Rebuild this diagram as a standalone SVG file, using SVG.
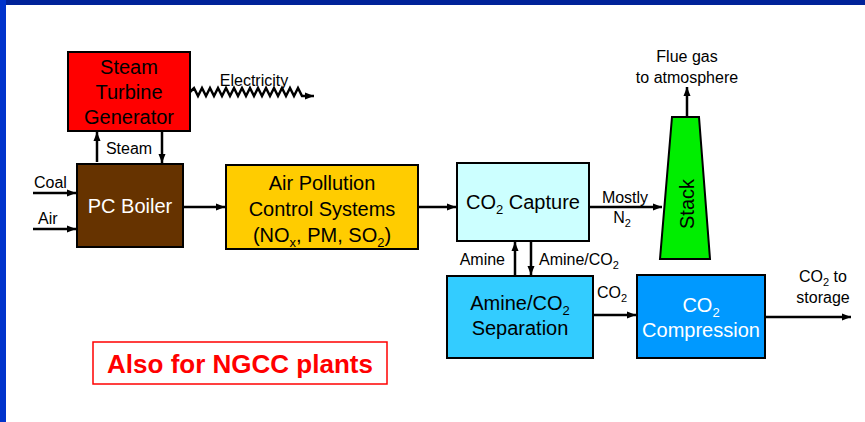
<svg xmlns="http://www.w3.org/2000/svg" width="865" height="422" viewBox="0 0 865 422">
<style>
  .box{stroke:#000;stroke-width:2}
  .t{font-family:"Liberation Sans",Arial,sans-serif;font-size:20px;fill:#000;text-anchor:middle}
  .w{fill:#fff}
  .l{font-family:"Liberation Sans",Arial,sans-serif;font-size:16px;fill:#000}
  .c{stroke:#000;stroke-width:2.5;fill:none}
</style>
<defs>
  <marker id="ah" markerUnits="userSpaceOnUse" markerWidth="10" markerHeight="8" refX="9" refY="4" orient="auto">
    <path d="M0,0.5 L9,4 L0,7.5 z" fill="#000"/>
  </marker>
</defs>
<rect x="0" y="0" width="865" height="422" fill="#fff"/>
<rect x="0" y="0" width="865" height="5" fill="#002299"/>
<rect x="0" y="0" width="6" height="422" fill="#0033cc"/>

<g id="stg">
  <rect class="box" x="68" y="52" width="122" height="79" fill="#ff0000"/>
  <text class="t" x="129" y="74">Steam</text>
  <text class="t" x="129" y="99">Turbine</text>
  <text class="t" x="129" y="124">Generator</text>
</g>
<g id="boiler">
  <rect class="box" x="77" y="164" width="106" height="83" fill="#663300"/>
  <text class="t w" x="130" y="213">PC Boiler</text>
</g>
<g id="apc">
  <rect class="box" x="226" y="165" width="192" height="84" fill="#ffcc00"/>
  <text class="t" x="322" y="190">Air Pollution</text>
  <text class="t" x="322" y="216">Control Systems</text>
  <text class="t" x="322" y="242">(NO<tspan font-size="13" dy="5">x</tspan><tspan dy="-5">, PM, SO</tspan><tspan font-size="13" dy="5">2</tspan><tspan dy="-5">)</tspan></text>
</g>
<g id="capture">
  <rect class="box" x="457" y="163" width="132" height="78" fill="#ccffff"/>
  <text class="t" x="523" y="209">CO<tspan font-size="13" dy="5">2</tspan><tspan dy="-5"> Capture</tspan></text>
</g>
<g id="stack">
  <polygon class="box" points="672,117 699,117 710,259 660,259" fill="#00ee00"/>
  <text class="t" transform="translate(694,204) rotate(-90)">Stack</text>
</g>
<g id="separation">
  <rect class="box" x="447" y="276" width="146" height="82" fill="#33ccff"/>
  <text class="t" x="520" y="310">Amine/CO<tspan font-size="13" dy="5">2</tspan></text>
  <text class="t" x="520" y="335">Separation</text>
</g>
<g id="compression">
  <rect class="box" x="637" y="275" width="128" height="83" fill="#0099ff"/>
  <text class="t w" x="701" y="312">CO<tspan font-size="13" dy="5">2</tspan></text>
  <text class="t w" x="701" y="337">Compression</text>
</g>
<g id="note">
  <rect x="93" y="342" width="294" height="42" fill="none" stroke="#ff0000" stroke-width="1.5"/>
  <text x="240" y="373" font-family="Liberation Sans,Arial,sans-serif" font-size="26" font-weight="bold" fill="#ff0000" text-anchor="middle">Also for NGCC plants</text>
</g>

<g id="connectors">
  <polyline class="c" stroke-width="1.8" points="190,92 194,88 198,96 202,88 206,96 210,88 214,96 218,88 222,96 226,88 230,96 234,88 238,96 242,88 246,96 250,88 254,96 258,88 262,96 266,88 270,96 274,88 278,96 282,88 286,96 290,88 294,96 298,88 302,96 306,96 314,96" marker-end="url(#ah)"/>
  <line class="c" x1="97" y1="162" x2="97" y2="132" marker-end="url(#ah)"/>
  <line class="c" x1="162" y1="131" x2="162" y2="163" marker-end="url(#ah)"/>
  <line class="c" x1="33" y1="193" x2="76" y2="193" marker-end="url(#ah)"/>
  <line class="c" x1="33" y1="229" x2="76" y2="229" marker-end="url(#ah)"/>
  <line class="c" x1="183" y1="207" x2="225" y2="207" marker-end="url(#ah)"/>
  <line class="c" x1="418" y1="207" x2="456" y2="207" marker-end="url(#ah)"/>
  <line class="c" x1="589" y1="207" x2="662" y2="207" marker-end="url(#ah)"/>
  <line class="c" x1="687" y1="117" x2="687" y2="87" marker-end="url(#ah)"/>
  <line class="c" x1="515" y1="276" x2="515" y2="242" marker-end="url(#ah)"/>
  <line class="c" x1="531" y1="241" x2="531" y2="275" marker-end="url(#ah)"/>
  <line class="c" x1="593" y1="315" x2="636" y2="315" marker-end="url(#ah)"/>
  <line class="c" x1="765" y1="317" x2="851" y2="317" marker-end="url(#ah)"/>
</g>
<g id="labels">
  <text class="l" x="254" y="86" text-anchor="middle">Electricity</text>
  <text class="l" x="129" y="154" text-anchor="middle">Steam</text>
  <text class="l" x="34" y="188">Coal</text>
  <text class="l" x="38" y="224">Air</text>
  <text class="l" x="625" y="203" text-anchor="middle">Mostly</text>
  <text class="l" x="622" y="223" text-anchor="middle">N<tspan font-size="11" dy="4">2</tspan></text>
  <text class="l" x="687" y="62" text-anchor="middle">Flue gas</text>
  <text class="l" x="687" y="83" text-anchor="middle">to atmosphere</text>
  <text class="l" x="505" y="265" text-anchor="end">Amine</text>
  <text class="l" x="539" y="265">Amine/CO<tspan font-size="11" dy="4">2</tspan></text>
  <text class="l" x="597" y="298">CO<tspan font-size="11" dy="4">2</tspan></text>
  <text class="l" x="823" y="282" text-anchor="middle">CO<tspan font-size="11" dy="4">2</tspan><tspan dy="-4"> to</tspan></text>
  <text class="l" x="823" y="303" text-anchor="middle">storage</text>
</g>
</svg>
